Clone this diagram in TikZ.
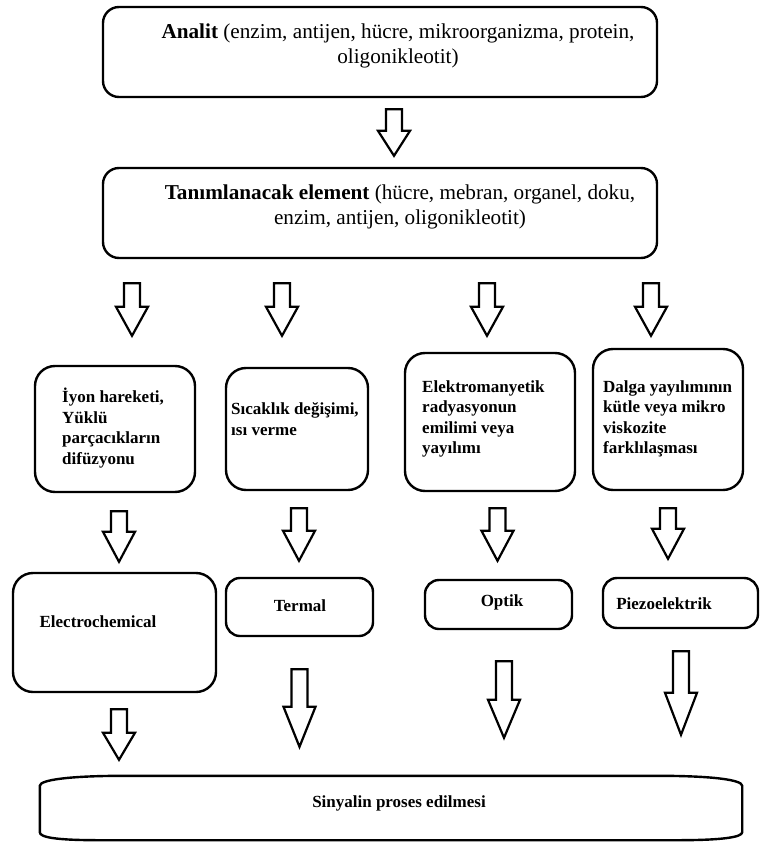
\documentclass[tikz,border=0pt]{standalone}
\usepackage{fontspec}
\setmainfont{Liberation Serif}
\usetikzlibrary{calc,positioning}

\begin{document}
\begin{tikzpicture}[x=1pt,y=-1pt,
	box/.style={draw, line width=2.4pt, rounded corners=16pt, inner sep=0pt},
	big text/.style={inner sep=0pt, align=center, font=\fontsize{21.2}{25}\selectfont},
	small text/.style={inner sep=0pt, align=left, font=\bfseries\fontsize{17}{20.5}\selectfont},
	hollow/.style={line width=2.2pt, to path={let \p1=(\tikztostart), \p2=(\tikztotarget) in
		(\x1-8pt,\y1) -- (\x1+8pt,\y1) -- (\x1+8pt,\y2+#1pt) -- (\x1+16pt,\y2+#1pt)
		-- (\x1,\y2) -- (\x1-16pt,\y2+#1pt) -- (\x1-8pt,\y2+#1pt) -- cycle}},
	hollow/.default=28]
	
	\useasboundingbox (0,0) rectangle (760,842);
	
	% frames
	\node[box, minimum width=554, minimum height=90] (analit) at (380,52) {};
	\node[box, minimum width=554, minimum height=90] (tanim) at (380,213) {};
	
	\node[box, minimum width=160, minimum height=126, rounded corners=20pt] (iyon) at (115,429) {};
	\node[box, minimum width=142, minimum height=122, rounded corners=20pt] (sicak) at (297,429) {};
	\node[box, minimum width=170, minimum height=138, rounded corners=20pt] (elektro) at (490,422) {};
	\node[box, minimum width=150, minimum height=141, rounded corners=20pt] (dalga) at (668,419.5) {};
	
	\node[box, minimum width=203, minimum height=119, rounded corners=20pt] (echem) at (114.5,632.5) {};
	\node[box, minimum width=147, minimum height=58, rounded corners=14pt] (termal) at (299.5,607) {};
	\node[box, minimum width=147, minimum height=49, rounded corners=14pt] (optik) at (498.5,604.5) {};
	\node[box, minimum width=155, minimum height=50, rounded corners=14pt] (piezo) at (680.5,603) {};
	
	\node[inner sep=0pt, minimum width=702, minimum height=64] (signal) at (391,808) {};
	\draw[line width=2.4pt] ($(signal.north west)+(0,10)$) .. controls +(0,-6) and +(-55,0) .. ($(signal.north west)+(85,0)$)
		-- ($(signal.north east)+(-85,0)$) .. controls +(55,0) and +(0,-6) .. ($(signal.north east)+(0,10)$)
		-- ($(signal.south east)+(0,-8)$) .. controls +(0,5) and +(45,0) .. ($(signal.south east)+(-65,0)$)
		-- ($(signal.south west)+(60,0)$) .. controls +(-45,0) and +(0,5) .. ($(signal.south west)+(0,-8)$)
		-- cycle;
	
	% texts
	\node[big text] (analit-t) at (398,46) {\textbf{Analit} (enzim, antijen, hücre, mikroorganizma, protein,\\oligonikleotit)};
	\node[big text] (tanim-t) at (400,207) {\textbf{Tanımlanacak element} (hücre, mebran, organel, doku,\\enzim, antijen, oligonikleotit)};
	
	\node[small text, anchor=west] (iyon-t) at (62,428) {İyon hareketi,\\Yüklü\\parçacıkların\\difüzyonu};
	\node[small text, anchor=west] (sicak-t) at (231,419) {Sıcaklık değişimi,\\ısı verme};
	\node[small text, anchor=west] (elektro-t) at (422,419) {Elektromanyetik\\radyasyonun\\emilimi veya\\yayılımı};
	\node[small text, anchor=west] (dalga-t) at (603,419) {Dalga yayılımının\\kütle veya mikro\\viskozite\\farklılaşması};
	
	\node[small text] (echem-t) at (98,622) {Electrochemical};
	\node[small text] (termal-t) at (300,606) {Termal};
	\node[small text] (optik-t) at (502,602) {Optik};
	\node[small text] (piezo-t) at (664,604) {Piezoelektrik};
	\node[small text] (signal-t) at (399,803) {Sinyalin proses edilmesi};
	
	% arrows
	\draw[hollow=25] ([xshift=14pt,yshift=-11pt]analit.south) to ([yshift=11pt]tanim.north);
	
	\draw[hollow=29] ([xshift=-248pt,yshift=-24pt]tanim.south) to ([yshift=29pt]iyon.north);
	\draw[hollow=29] ([xshift=-98pt,yshift=-24pt]tanim.south) to ([yshift=31pt]sicak.north);
	\draw[hollow=29] ([xshift=107pt,yshift=-24pt]tanim.south) to ([yshift=16pt]elektro.north);
	\draw[hollow=29] ([xshift=271pt,yshift=-24pt]tanim.south) to ([yshift=12pt]dalga.north);
	
	\draw[hollow=30] ([xshift=4pt,yshift=-18pt]iyon.south) to ([yshift=10pt]echem.north);
	\draw[hollow=30] ([xshift=2pt,yshift=-17pt]sicak.south) to ([yshift=16pt]termal.north);
	\draw[hollow=30] ([xshift=7.5pt,yshift=-16pt]elektro.south) to ([yshift=18pt]optik.north);
	\draw[hollow=30] ([yshift=-17pt]dalga.south) to ([yshift=18pt]piezo.north);
	
	\draw[hollow=27] ([xshift=4.5pt,yshift=-16pt]echem.south) to ([xshift=-272pt,yshift=16pt]signal.north);
	\draw[hollow=40] ([yshift=-32pt]termal.south) to ([yshift=29pt]signal.north);
	\draw[hollow=38] ([xshift=5.5pt,yshift=-31pt]optik.south) to ([yshift=38pt]signal.north);
	\draw[hollow=42] ([xshift=0.5pt,yshift=-22pt]piezo.south) to ([yshift=41pt]signal.north);
	
\end{tikzpicture}
\end{document}
